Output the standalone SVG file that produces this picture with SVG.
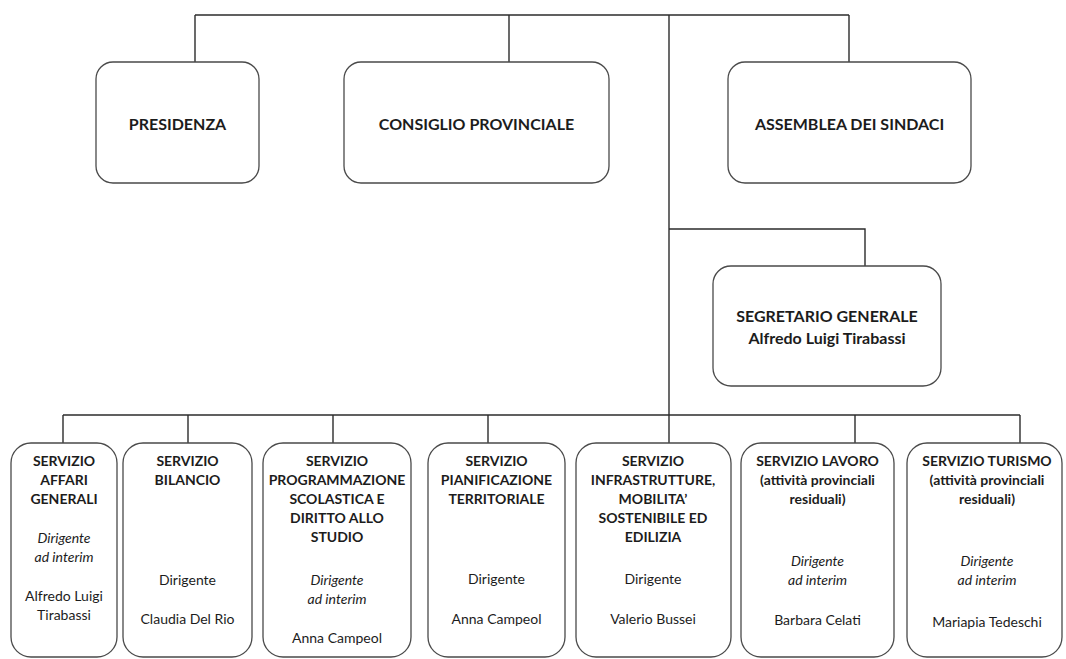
<svg xmlns="http://www.w3.org/2000/svg" width="1066" height="659" viewBox="0 0 1066 659">
<style>
.bg{fill:#ffffff}
.box{fill:#ffffff;stroke:#4a4a4a;stroke-width:1.3}
.ln{fill:none;stroke:#2b2b2b;stroke-width:1.4}
text{font-family:Lato,"Open Sans","Liberation Sans",sans-serif;fill:#1c1c1c;text-anchor:middle}
.t{font-size:16px;font-weight:bold}
.b{font-size:14px;font-weight:bold}
.r{font-size:14px}
.i{font-size:14px;font-style:italic}
</style>
<rect class="bg" x="0" y="0" width="1066" height="659"/>
<g id="connectors">
<path class="ln" d="M195 15 H849"/>
<path class="ln" d="M195 15 V62"/>
<path class="ln" d="M509 15 V62"/>
<path class="ln" d="M849 15 V62"/>
<path class="ln" d="M669 15 V443"/>
<path class="ln" d="M669 229 H865 V266"/>
<path class="ln" d="M63 415 H1020"/>
<path class="ln" d="M63 415 V443"/>
<path class="ln" d="M188 415 V443"/>
<path class="ln" d="M333 415 V443"/>
<path class="ln" d="M488 415 V443"/>
<path class="ln" d="M855 415 V443"/>
<path class="ln" d="M1020 415 V443"/>
</g>
<g id="presidenza">
<rect class="box" x="96" y="62" width="163" height="121" rx="17"/>
<text class="t" x="177.5" y="130">PRESIDENZA</text>
</g>
<g id="consiglio">
<rect class="box" x="344" y="62" width="265" height="121" rx="17"/>
<text class="t" x="476.5" y="130">CONSIGLIO PROVINCIALE</text>
</g>
<g id="assemblea">
<rect class="box" x="728" y="62" width="243" height="121" rx="17"/>
<text class="t" x="849.5" y="130">ASSEMBLEA DEI SINDACI</text>
</g>
<g id="segretario">
<rect class="box" x="713" y="266" width="228" height="120" rx="18"/>
<text class="t" x="827" y="322">SEGRETARIO GENERALE</text>
<text class="t" x="827" y="344">Alfredo Luigi Tirabassi</text>
</g>
<g id="affari-generali">
<rect class="box" x="11" y="443" width="106" height="214" rx="20"/>
<text class="b" x="64" y="466">SERVIZIO</text>
<text class="b" x="64" y="485">AFFARI</text>
<text class="b" x="64" y="504">GENERALI</text>
<text class="i" x="64" y="543">Dirigente</text>
<text class="i" x="64" y="562">ad interim</text>
<text class="r" x="64" y="601">Alfredo Luigi</text>
<text class="r" x="64" y="620">Tirabassi</text>
</g>
<g id="bilancio">
<rect class="box" x="123" y="443" width="129" height="214" rx="20"/>
<text class="b" x="187.5" y="466">SERVIZIO</text>
<text class="b" x="187.5" y="485">BILANCIO</text>
<text class="r" x="187.5" y="585">Dirigente</text>
<text class="r" x="187.5" y="624">Claudia Del Rio</text>
</g>
<g id="programmazione">
<rect class="box" x="263" y="443" width="148" height="214" rx="20"/>
<text class="b" x="337" y="466">SERVIZIO</text>
<text class="b" x="337" y="485">PROGRAMMAZIONE</text>
<text class="b" x="337" y="504">SCOLASTICA E</text>
<text class="b" x="337" y="523">DIRITTO ALLO</text>
<text class="b" x="337" y="542">STUDIO</text>
<text class="i" x="337" y="585">Dirigente</text>
<text class="i" x="337" y="604">ad interim</text>
<text class="r" x="337" y="643">Anna Campeol</text>
</g>
<g id="pianificazione">
<rect class="box" x="428" y="443" width="137" height="214" rx="20"/>
<text class="b" x="496.5" y="466">SERVIZIO</text>
<text class="b" x="496.5" y="485">PIANIFICAZIONE</text>
<text class="b" x="496.5" y="504">TERRITORIALE</text>
<text class="r" x="496.5" y="584">Dirigente</text>
<text class="r" x="496.5" y="624">Anna Campeol</text>
</g>
<g id="infrastrutture">
<rect class="box" x="576" y="443" width="155" height="214" rx="20"/>
<text class="b" x="653" y="466">SERVIZIO</text>
<text class="b" x="653" y="485">INFRASTRUTTURE,</text>
<text class="b" x="653" y="504">MOBILITA’</text>
<text class="b" x="653" y="523">SOSTENIBILE ED</text>
<text class="b" x="653" y="542">EDILIZIA</text>
<text class="r" x="653" y="584">Dirigente</text>
<text class="r" x="653" y="624">Valerio Bussei</text>
</g>
<g id="lavoro">
<rect class="box" x="741" y="443" width="153" height="214" rx="20"/>
<text class="b" x="817.5" y="466">SERVIZIO LAVORO</text>
<text class="b" x="817.5" y="485">(attività provinciali</text>
<text class="b" x="817.5" y="504">residuali)</text>
<text class="i" x="817.5" y="566">Dirigente</text>
<text class="i" x="817.5" y="585">ad interim</text>
<text class="r" x="817.5" y="625">Barbara Celati</text>
</g>
<g id="turismo">
<rect class="box" x="907" y="443" width="155" height="214" rx="20"/>
<text class="b" x="987" y="466">SERVIZIO TURISMO</text>
<text class="b" x="987" y="485">(attività provinciali</text>
<text class="b" x="987" y="504">residuali)</text>
<text class="i" x="987" y="566">Dirigente</text>
<text class="i" x="987" y="585">ad interim</text>
<text class="r" x="987" y="627">Mariapia Tedeschi</text>
</g>
</svg>
